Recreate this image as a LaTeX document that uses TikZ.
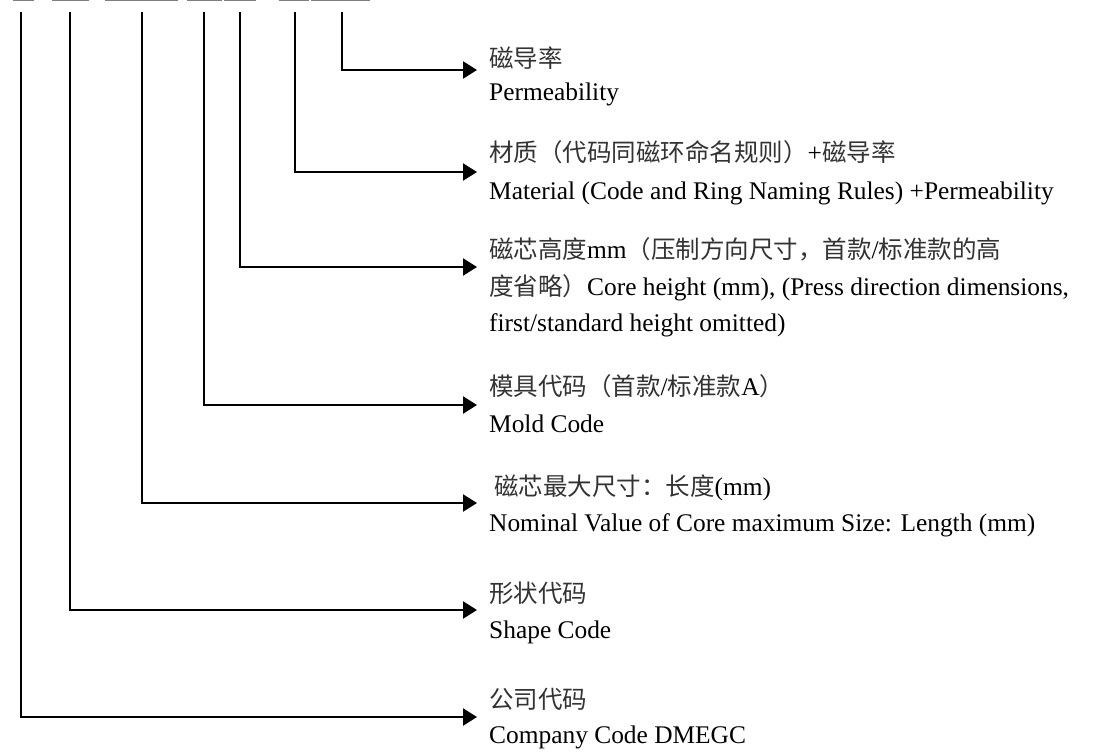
\documentclass[tikz,border=0pt]{standalone}
\usepackage{fontspec}
\setmainfont{Liberation Serif}
\newfontfamily\cjkfam{Noto Sans CJK SC}
\newcommand\zhtxt[1]{{\cjkfam\fontsize{24.5}{30}\selectfont\color{black!80}#1}}
\usetikzlibrary{arrows.meta}
\begin{document}
\begin{tikzpicture}[x=1pt,y=-1pt,
  lead/.style={line width=2.3pt,-{Triangle[length=14pt,width=17pt]}},
  txt/.style={anchor=base west,inner sep=0pt,font=\fontsize{25.4}{30}\selectfont},
  bar/.style={line width=1.5pt,black!50}]
\useasboundingbox (0,0) rectangle (1098,753);
% top underscores
\draw[bar] (13,0.6) -- (34,0.6);
\draw[bar] (52,0.6) -- (89,0.6);
\draw[bar] (105,0.6) -- (178,0.6);
\draw[bar] (187,0.6) -- (222,0.6);
\draw[bar] (224,0.6) -- (256,0.6);
\draw[bar] (279,0.6) -- (309,0.6);
\draw[bar] (311,0.6) -- (370,0.6);
% start points and tips
\coordinate (s1) at (342,12); \coordinate (t1) at (477,70);
\coordinate (s2) at (295,12); \coordinate (t2) at (477,172);
\coordinate (s3) at (240,12); \coordinate (t3) at (477,267);
\coordinate (s4) at (204,12); \coordinate (t4) at (477,405);
\coordinate (s5) at (142,12); \coordinate (t5) at (477,503);
\coordinate (s6) at (70,12);  \coordinate (t6) at (477,610);
\coordinate (s7) at (21,12);  \coordinate (t7) at (477,717);
\foreach \i in {1,...,7} { \draw[lead] (s\i) |- (t\i); }
% texts
\node[txt] (c1) at (489,67) {\zhtxt{磁导率}};
\node[txt] (e1) at (489,100) {Permeability};
\node[txt] (c2) at (489,161) {\zhtxt{材质（代码同磁环命名规则）}+\zhtxt{磁导率}};
\node[txt] (e2) at (489,199) {Material (Code and Ring Naming Rules) +Permeability};
\node[txt] (c3) at (489,258) {\zhtxt{磁芯高度}mm\zhtxt{（压制方向尺寸，首款}/\zhtxt{标准款的高}};
\node[txt] (e3) at (489,295) {\zhtxt{度省略）}Core height (mm), (Press direction dimensions,};
\node[txt] (f3) at (489,331) {first/standard height omitted)};
\node[txt] (c4) at (489,395) {\zhtxt{模具代码（首款}/\zhtxt{标准款}A\zhtxt{）}};
\node[txt] (e4) at (489,432) {Mold Code};
\node[txt] (c5) at (494,495) {\zhtxt{磁芯最大尺寸：长度}(mm)};
\node[txt] (e5) at (489,531) {Nominal Value of Core maximum Size: Length (mm)};
\node[txt] (c6) at (489,602) {\zhtxt{形状代码}};
\node[txt] (e6) at (489,638) {Shape Code};
\node[txt] (c7) at (489,708) {\zhtxt{公司代码}};
\node[txt] (e7) at (489,743) {Company Code DMEGC};
\end{tikzpicture}
\end{document}
